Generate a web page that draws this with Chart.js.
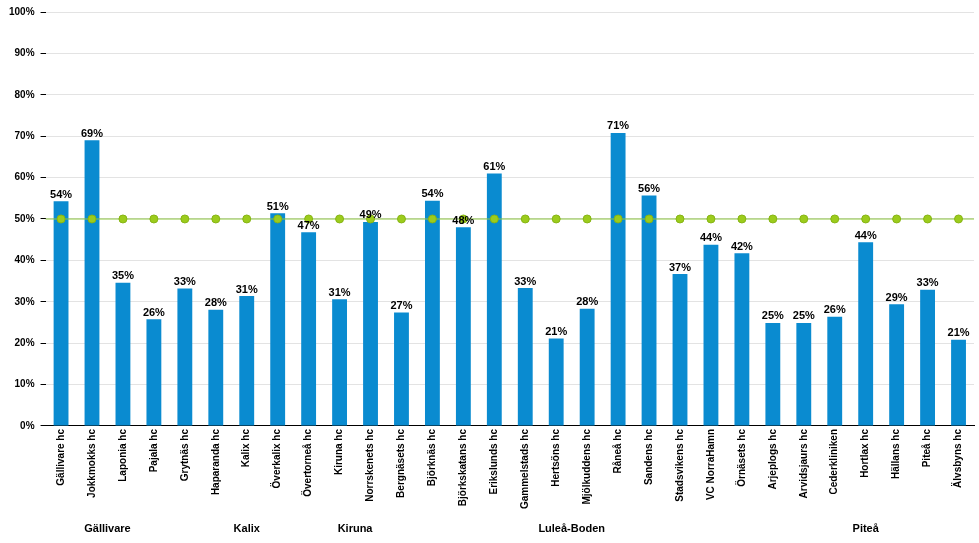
<!DOCTYPE html>
<html>
<head>
<meta charset="utf-8">
<script src="https://cdn.jsdelivr.net/npm/chart.js"></script>
<style>
  html, body { margin: 0; padding: 0; background: #fff; }
  #myChart { display: block; }
</style>
</head>
<body>
<canvas id="myChart" width="979" height="543"></canvas>

<script>
    // Categories (health centres) and their share in percent
    const categories = ['Gällivare hc', 'Jokkmokks hc', 'Laponia hc', 'Pajala hc',
        'Grytnäs hc', 'Haparanda hc', 'Kalix hc', 'Överkalix hc', 'Övertorneå hc',
        'Kiruna hc', 'Norrskenets hc',
        'Bergnäsets hc', 'Björknäs hc', 'Björkskatans hc', 'Erikslunds hc', 'Gammelstads hc',
        'Hertsöns hc', 'Mjölkuddens hc', 'Råneå hc', 'Sandens hc', 'Stadsvikens hc',
        'VC NorraHamn', 'Örnäsets hc',
        'Arjeplogs hc', 'Arvidsjaurs hc', 'Cederkliniken', 'Hortlax hc', 'Hällans hc',
        'Piteå hc', 'Älvsbyns hc'];

    const values = [54.3, 69.0, 34.6, 25.8,
        33.2, 28.1, 31.4, 51.4, 46.8,
        30.6, 49.3,
        27.4, 54.4, 48.0, 61.0, 33.3,
        21.1, 28.3, 70.8, 55.7, 36.7,
        43.8, 41.7,
        24.9, 24.9, 26.4, 44.4, 29.4,
        32.9, 20.8];

    // Target level (green line)
    const target = [50, 50, 50, 50, 50, 50, 50, 50, 50, 50,
        50, 50, 50, 50, 50, 50, 50, 50, 50, 50,
        50, 50, 50, 50, 50, 50, 50, 50, 50, 50];

    // Region groups: name, first index, last index
    const groupNames = ['Gällivare', 'Kalix', 'Kiruna', 'Luleå-Boden', 'Piteå'];
    const groupStart = [0, 4, 9, 11, 23];
    const groupEnd = [3, 8, 10, 22, 29];

    const yTicks = [0, 10, 20, 30, 40, 50, 60, 70, 80, 90, 100];

    const FONT = "'Liberation Sans', Arial, sans-serif";

    // value labels above the bars
    const barLabels = {
        id: 'barLabels',
        afterDatasetsDraw(chart) {
            const ctx = chart.ctx;
            const meta = chart.getDatasetMeta(0);
            ctx.save();
            ctx.font = 'bold 11px ' + FONT;
            ctx.fillStyle = '#000';
            ctx.textAlign = 'center';
            ctx.textBaseline = 'bottom';
            meta.data.forEach((bar, i) => {
                ctx.fillText(Math.round(values[i]) + '%', bar.x, bar.y - 1);
            });
            ctx.restore();
        }
    };

    // full width target line, drawn just before the target points
    const targetLine = {
        id: 'targetLine',
        beforeDatasetDraw(chart, args) {
            if (args.index !== 1) return;
            const ctx = chart.ctx;
            const y = chart.scales.y.getPixelForValue(target[0]);
            ctx.save();
            ctx.strokeStyle = '#8cc63e';
            ctx.lineWidth = 1.2;
            ctx.beginPath();
            ctx.moveTo(chart.chartArea.left, y);
            ctx.lineTo(chart.chartArea.right, y);
            ctx.stroke();
            ctx.restore();
        }
    };

    // group names under the category labels
    const groupLabels = {
        id: 'groupLabels',
        afterDraw(chart) {
            const ctx = chart.ctx;
            const x = chart.scales.x;
            ctx.save();
            ctx.font = 'bold 11px ' + FONT;
            ctx.fillStyle = '#000';
            ctx.textAlign = 'center';
            ctx.textBaseline = 'middle';
            groupNames.forEach((name, i) => {
                const cx = (x.getPixelForValue(groupStart[i]) + x.getPixelForValue(groupEnd[i])) / 2;
                ctx.fillText(name, cx, 529);
            });
            ctx.restore();
        }
    };

    const ctx = document.getElementById('myChart').getContext('2d');

    const myChart = new Chart(ctx, {
        type: 'bar',
        data: {
            labels: categories,
            datasets: [{
                type: 'bar',
                label: 'Andel',
                data: values,
                backgroundColor: '#0a8bd0',
                barPercentage: 0.48,
                categoryPercentage: 1,
                order: 1
            }, {
                type: 'line',
                label: 'Mål',
                data: target,
                showLine: false,
                pointRadius: 4,
                pointBackgroundColor: '#9ccc1c',
                pointBorderColor: '#86b415',
                pointBorderWidth: 1,
                order: 0
            }]
        },
        options: {
            responsive: false,
            animation: false,
            layout: { padding: { left: 3, right: 4, top: 8, bottom: 31 } },
            plugins: {
                legend: { display: false },
                tooltip: { enabled: false }
            },
            scales: {
                x: {
                    grid: { display: false, drawTicks: false },
                    border: { color: '#000', width: 1 },
                    ticks: {
                        color: '#000',
                        font: { family: FONT, size: 10, weight: 'bold' },
                        minRotation: 90,
                        maxRotation: 90,
                        autoSkip: false,
                        padding: 3
                    }
                },
                y: {
                    min: 0,
                    max: 100,
                    afterBuildTicks(scale) {
                        scale.ticks = yTicks.map(v => ({ value: v }));
                    },
                    grid: {
                        color: '#e3e3e3',
                        tickColor: '#000',
                        tickLength: 5
                    },
                    border: { display: false },
                    ticks: {
                        color: '#000',
                        font: { family: FONT, size: 10, weight: 'bold' },
                        padding: 6,
                        callback: v => v + '%'
                    }
                }
            }
        },
        plugins: [barLabels, targetLine, groupLabels]
    });
</script>
</body>
</html>
